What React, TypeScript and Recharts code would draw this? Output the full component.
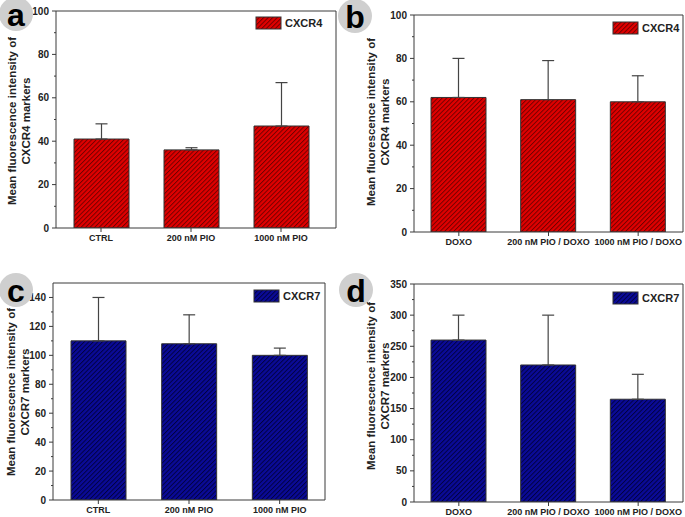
import React from "react";
import { BarChart, Bar, XAxis, YAxis, ErrorBar } from "recharts";

const FONT = "'Liberation Sans', Arial, Helvetica, sans-serif";

// categories
const pioGroups = ["CTRL", "200 nM PIO", "1000 nM PIO"];
const doxoGroups = ["DOXO", "200 nM PIO / DOXO", "1000 nM PIO / DOXO"];

// means and upper SD
const cxcr4Pio = [41, 36, 47];
const cxcr4PioSd = [7, 1, 20];
const cxcr4Doxo = [62, 61, 60];
const cxcr4DoxoSd = [18, 18, 12];
const cxcr7Pio = [110, 108, 100];
const cxcr7PioSd = [30, 20, 5];
const cxcr7Doxo = [260, 220, 165];
const cxcr7DoxoSd = [40, 80, 40];

// y ticks (major + minor)
const ticks100 = [0, 20, 40, 60, 80, 100];
const minor100 = [10, 30, 50, 70, 90];
const ticks140 = [0, 20, 40, 60, 80, 100, 120, 140];
const minor140 = [10, 30, 50, 70, 90, 110, 130];
const ticks350 = [0, 50, 100, 150, 200, 250, 300, 350];
const minor350 = [25, 75, 125, 175, 225, 275, 325];

const AXIS = "#3a3a3a";

function rows(names: string[], vals: number[], sds: number[]) {
  return names.map((name, i) => ({ name, value: vals[i], err: [0, sds[i]] }));
}

function YTick(props: any) {
  const { x, y, payload, majors } = props;
  const axisX = x + 6;
  const isMajor = majors.includes(payload.value);
  return (
    <g>
      <line x1={axisX - (isMajor ? 4 : 2)} x2={axisX} y1={y} y2={y} stroke={AXIS} strokeWidth={1} />
      {isMajor && (
        <text x={x - 1} y={y} dy="0.35em" textAnchor="end" fontSize={10} fontWeight="bold" fill="#222" fontFamily={FONT}>
          {payload.value}
        </text>
      )}
    </g>
  );
}

type PanelProps = {
  left: number;
  top: number;
  width: number;
  height: number;
  margin: { top: number; right: number; bottom: number; left: number };
  data: any[];
  domain: [number, number];
  majors: number[];
  minors: number[];
  fill: string;
  xHeight: number;
  xPad: { left: number; right: number };
};

function Panel(p: PanelProps) {
  const allTicks = [...p.majors, ...p.minors].sort((a, b) => a - b);
  return (
    <div style={{ position: "absolute", left: p.left, top: p.top }}>
      <BarChart width={p.width} height={p.height} data={p.data} margin={p.margin}>
        <XAxis
          dataKey="name"
          height={p.xHeight}
          padding={p.xPad}
          stroke={AXIS}
          tickSize={4}
          tickMargin={3}
          interval={0}
          tick={{ fontSize: 9, fontWeight: "bold", fill: "#222", fontFamily: FONT }}
        />
        <YAxis
          width={30}
          domain={p.domain}
          ticks={allTicks}
          interval={0}
          allowDataOverflow
          stroke={AXIS}
          tickLine={false}
          tickSize={4}
          tickMargin={2}
          tick={(t: any) => <YTick {...t} majors={p.majors} />}
        />
        <Bar dataKey="value" fill={p.fill} stroke="#333" strokeWidth={1} barSize={55} isAnimationActive={false}>
          <ErrorBar dataKey="err" direction="y" width={6} stroke="#444" strokeWidth={1.2} isAnimationActive={false} />
        </Bar>
      </BarChart>
    </div>
  );
}

function Badge({ cx, cy, letter }: { cx: number; cy: number; letter: string }) {
  return (
    <g>
      <circle cx={cx} cy={cy} r={17} fill="#cfcfcf" />
      <text x={cx} y={cy + 1} textAnchor="middle" dominantBaseline="central" fontSize={32} fontWeight="bold" fontFamily={FONT} fill="#000">
        {letter}
      </text>
    </g>
  );
}

function YTitle({ x, cy, marker }: { x: number; cy: number; marker: string }) {
  return (
    <g fontFamily={FONT} fontSize={11.5} fontWeight="bold" fill="#222" textAnchor="middle">
      <text transform={`translate(${x},${cy}) rotate(-90)`} dominantBaseline="central">
        Mean fluorescence intensity of
      </text>
      <text transform={`translate(${x + 14},${cy}) rotate(-90)`} dominantBaseline="central">
        {marker} markers
      </text>
    </g>
  );
}

function LegendItem({ x, y, fill, label }: { x: number; y: number; fill: string; label: string }) {
  return (
    <g>
      <rect x={x} y={y} width={25} height={12} fill={fill} stroke="#333" strokeWidth={1} />
      <text x={x + 29} y={y + 6} dominantBaseline="central" fontSize={11} fontWeight="bold" fontFamily={FONT} fill="#222">
        {label}
      </text>
    </g>
  );
}

// plot frame (top and right edges of the box)
function Frame({ x1, y1, x2, y2 }: { x1: number; y1: number; x2: number; y2: number }) {
  return <polyline points={`${x1},${y1} ${x2},${y1} ${x2},${y2}`} fill="none" stroke={AXIS} strokeWidth={1} />;
}

export default function App() {
  return (
    <div style={{ position: "absolute", left: 0, top: 0, width: 685, height: 517, background: "#fff", overflow: "hidden" }}>
      <svg width={0} height={0} style={{ position: "absolute" }}>
        <defs>
          <pattern id="hatchRed" width={3.2} height={3.2} patternUnits="userSpaceOnUse" patternTransform="rotate(45)">
            <rect width={3.2} height={3.2} fill="#e00000" />
            <line x1={0.5} y1={0} x2={0.5} y2={3.2} stroke="#6a0000" strokeWidth={0.9} />
          </pattern>
          <pattern id="hatchBlue" width={3.2} height={3.2} patternUnits="userSpaceOnUse" patternTransform="rotate(45)">
            <rect width={3.2} height={3.2} fill="#0a0a98" />
            <line x1={0.5} y1={0} x2={0.5} y2={3.2} stroke="#00003a" strokeWidth={0.9} />
          </pattern>
        </defs>
      </svg>

      <Panel
        left={0} top={0} width={345} height={256}
        margin={{ top: 11, right: 9, left: 26, bottom: 3 }}
        data={rows(pioGroups, cxcr4Pio, cxcr4PioSd)}
        domain={[0, 100]} majors={ticks100} minors={minor100}
        fill="url(#hatchRed)" xHeight={25} xPad={{ left: 0, right: 10 }}
      />
      <Panel
        left={345} top={0} width={340} height={258}
        margin={{ top: 15, right: 2, left: 39, bottom: 1 }}
        data={rows(doxoGroups, cxcr4Doxo, cxcr4DoxoSd)}
        domain={[0, 100]} majors={ticks100} minors={minor100}
        fill="url(#hatchRed)" xHeight={25} xPad={{ left: 0, right: 0 }}
      />
      <Panel
        left={0} top={258} width={345} height={259}
        margin={{ top: 25, right: 20, left: 23, bottom: 2 }}
        data={rows(pioGroups, cxcr7Pio, cxcr7PioSd)}
        domain={[0, 150]} majors={ticks140} minors={minor140}
        fill="url(#hatchBlue)" xHeight={15} xPad={{ left: 0, right: 0 }}
      />
      <Panel
        left={345} top={258} width={340} height={259}
        margin={{ top: 26, right: 2, left: 39, bottom: 0 }}
        data={rows(doxoGroups, cxcr7Doxo, cxcr7DoxoSd)}
        domain={[0, 350]} majors={ticks350} minors={minor350}
        fill="url(#hatchBlue)" xHeight={15} xPad={{ left: 0, right: 0 }}
      />

      <svg width={685} height={517} style={{ position: "absolute", left: 0, top: 0, pointerEvents: "none" }}>
        <Frame x1={56} y1={11} x2={336} y2={228} />
        <Frame x1={414} y1={15} x2={683} y2={232} />
        <Frame x1={53} y1={283} x2={325} y2={500} />
        <Frame x1={414} y1={284} x2={683} y2={502} />
        <Badge cx={16} cy={14} letter="a" />
        <Badge cx={355} cy={16} letter="b" />
        <Badge cx={16} cy={290} letter="c" />
        <Badge cx={356} cy={290} letter="d" />
        <YTitle x={12} cy={121} marker="CXCR4" />
        <YTitle x={371} cy={122} marker="CXCR4" />
        <YTitle x={11} cy={392} marker="CXCR7" />
        <YTitle x={371} cy={386} marker="CXCR7" />
        <LegendItem x={256} y={17} fill="url(#hatchRed)" label="CXCR4" />
        <LegendItem x={613} y={22} fill="url(#hatchRed)" label="CXCR4" />
        <LegendItem x={254} y={290} fill="url(#hatchBlue)" label="CXCR7" />
        <LegendItem x={613} y={292} fill="url(#hatchBlue)" label="CXCR7" />
      </svg>
    </div>
  );
}
